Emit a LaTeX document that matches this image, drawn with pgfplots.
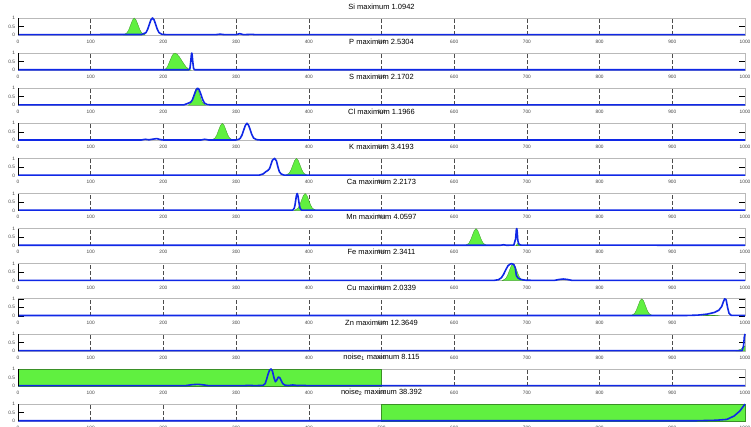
\documentclass[border=0pt]{standalone}
\usepackage{fontspec}
\setmainfont{Liberation Sans}
\usepackage{pgfplots}
\pgfplotsset{compat=1.18}
\definecolor{mgreen}{RGB}{96,240,64}
\definecolor{mblue}{RGB}{16,40,230}
\pgfplotsset{
  panel/.style={
    anchor=north west,
    scale only axis,
    width=727pt, height=17pt,
    xmin=0, xmax=1000, ymin=0, ymax=1,
    clip=false,
    xtick={0,100,...,1000},
    ytick={0,0.5,1},
    yticklabels={0,0.5,1},
    /pgf/number format/1000 sep={},
    /pgf/number format/assume math mode=true,
    xmajorgrids,
    grid style={gray!60!black, dash pattern=on 4pt off 2pt, line width=0.5pt},
    axis line style={gray!55, line width=0.8pt},
    xtick style={draw=none},
    ytick style={black, line width=0.6pt},
    major tick length=6pt,
    tick align=inside,
    tick label style={font=\fontsize{4.8}{5}\selectfont, text=black!75},
    xticklabel style={yshift=-1.5pt},
    yticklabel style={xshift=0.5pt},
    title style={font=\fontsize{7.5}{8}\selectfont, at={(0.5,1)}, anchor=south, yshift=1.5pt, inner sep=1pt},
    every axis plot/.append style={},
  },
  gfill/.style={draw=mgreen!60!black, line width=0.3pt, fill=mgreen},
  bline/.style={draw=mblue, line width=1.6pt, line join=round},
}
\newcommand{\leftspine}{\draw[black, line width=1pt] (rel axis cs:0,0) -- (rel axis cs:0,1);}
\begin{document}
\begin{tikzpicture}
% Si
\begin{axis}[panel, at={(18pt,-18pt)}, title={Si maximum 1.0942}]
\addplot[gfill] coordinates {(145,0) (150,0.135) (152.5,0.325) (155,0.607) (157.5,0.882) (160,1) (162.5,0.882) (165,0.607) (167.5,0.325) (170,0.135) (175,0)} \closedcycle;
\addplot[bline] coordinates {(0,0.02) (170,0.03) (176,0.135) (178.25,0.325) (180.5,0.607) (182.75,0.882) (185,1) (187.25,0.882) (189.5,0.607) (191.75,0.325) (194,0.135) (198,0.04) (205,0.02) (272,0.02) (278,0.05) (284,0.02) (300,0.02) (305,0.08) (310,0.02) (322,0.04) (326,0.02) (1000,0.02)};
\leftspine
\end{axis}
% P
\begin{axis}[panel, at={(18pt,-53.1pt)}, title={P maximum 2.5304}]
\addplot[gfill] coordinates {(200,0) (204,0.1) (206,0.25) (208,0.45) (210,0.65) (212,0.85) (214,0.97) (216,1) (219,0.93) (222,0.78) (225,0.58) (228,0.38) (231,0.2) (234,0.08) (238,0)} \closedcycle;
\addplot[bline] coordinates {(0,0.02) (235,0.02) (236.5,0.1) (237.5,0.45) (238.5,0.92) (239,1) (239.5,0.92) (240.5,0.45) (241.5,0.1) (243,0.02) (1000,0.02)};
\leftspine
\end{axis}
% S
\begin{axis}[panel, at={(18pt,-88.2pt)}, title={S maximum 2.1702}]
\addplot[gfill] coordinates {(234,0) (238,0.135) (240,0.325) (242,0.607) (244,0.882) (246,1) (248,0.882) (250,0.607) (252,0.325) (254,0.135) (258,0)} \closedcycle;
\addplot[bline] coordinates {(0,0.02) (228,0.02) (232,0.08) (236,0.15) (238,0.2) (240,0.33) (242.5,0.62) (245,0.9) (247,1) (249,0.93) (251.5,0.65) (254,0.33) (256.5,0.13) (260,0.04) (265,0.02) (1000,0.02)};
\leftspine
\end{axis}
% Cl
\begin{axis}[panel, at={(18pt,-123.3pt)}, title={Cl maximum 1.1966}]
\addplot[gfill] coordinates {(266,0) (271,0.135) (273.5,0.325) (276,0.607) (278.5,0.882) (281,1) (283.5,0.882) (286,0.607) (288.5,0.325) (291,0.135) (296,0)} \closedcycle;
\addplot[bline] coordinates {(0,0.02) (170,0.02) (175,0.06) (180,0.03) (186,0.07) (191,0.1) (196,0.04) (200,0.02) (252,0.02) (257,0.06) (262,0.02) (300,0.02) (304,0.06) (306,0.135) (308.25,0.325) (310.5,0.607) (312.75,0.882) (315,1) (317.25,0.882) (319.5,0.607) (321.75,0.325) (324,0.135) (328,0.04) (333,0.02) (1000,0.02)};
\leftspine
\end{axis}
% K
\begin{axis}[panel, at={(18pt,-158.4pt)}, title={K maximum 3.4193}]
\addplot[gfill] coordinates {(368,0) (373,0.135) (375.5,0.325) (378,0.607) (380.5,0.882) (383,1) (385.5,0.882) (388,0.607) (390.5,0.325) (393,0.135) (398,0)} \closedcycle;
\addplot[bline] coordinates {(0,0.02) (332,0.02) (337,0.08) (341,0.22) (344,0.3) (346,0.4) (348,0.65) (350,0.9) (353,1) (355.5,0.85) (357.5,0.5) (359.5,0.22) (362,0.08) (366,0.02) (1000,0.02)};
\leftspine
\end{axis}
% Ca
\begin{axis}[panel, at={(18pt,-193.5pt)}, title={Ca maximum 2.2173}]
\addplot[gfill] coordinates {(380,0) (385,0.135) (387.5,0.325) (390,0.607) (392.5,0.882) (395,1) (397.5,0.882) (400,0.607) (402.5,0.325) (405,0.135) (410,0)} \closedcycle;
\addplot[bline] coordinates {(0,0.02) (378,0.02) (380,0.135) (381,0.325) (382,0.607) (383,0.882) (384,1) (385,0.882) (386,0.607) (387,0.325) (388,0.135) (390,0.02) (1000,0.02)};
\leftspine
\end{axis}
% Mn
\begin{axis}[panel, at={(18pt,-228.6pt)}, title={Mn maximum 4.0597}]
\addplot[gfill] coordinates {(615,0) (620,0.135) (622.5,0.325) (625,0.607) (627.5,0.882) (630,1) (632.5,0.882) (635,0.607) (637.5,0.325) (640,0.135) (645,0)} \closedcycle;
\addplot[gfill] coordinates {(685,0) (687,0.12) (689,0.1) (692,0)} \closedcycle;
\addplot[bline] coordinates {(0,0.02) (663,0.02) (668,0.05) (672,0.02) (682,0.03) (684.5,0.4) (685.5,0.95) (686,1) (686.5,0.9) (687.5,0.3) (689,0.08) (692,0.03) (1000,0.02)};
\leftspine
\end{axis}
% Fe
\begin{axis}[panel, at={(18pt,-263.7pt)}, title={Fe maximum 2.3411}]
\addplot[gfill] coordinates {(666,0) (671,0.135) (673.5,0.325) (676,0.607) (678.5,0.882) (681,1) (683.5,0.882) (686,0.607) (688.5,0.325) (691,0.135) (696,0)} \closedcycle;
\addplot[bline] coordinates {(0,0.02) (655,0.02) (661,0.06) (665,0.18) (668,0.38) (671,0.65) (674,0.88) (677,0.98) (679,1) (682,0.95) (684,0.75) (685.5,0.3) (688,0.15) (692,0.07) (698,0.03) (710,0.02) (738,0.02) (744,0.07) (750,0.1) (756,0.07) (762,0.02) (1000,0.02)};
\leftspine
\end{axis}
% Cu
\begin{axis}[panel, at={(18pt,-298.8pt)}, title={Cu maximum 2.0339}]
\addplot[gfill] coordinates {(843,0) (848,0.135) (850.5,0.325) (853,0.607) (855.5,0.882) (858,1) (860.5,0.882) (863,0.607) (865.5,0.325) (868,0.135) (873,0)} \closedcycle;
\addplot[gfill] coordinates {(940,0) (952,0.05) (965,0)} \closedcycle;
\addplot[bline] coordinates {(0,0.02) (920,0.02) (935,0.04) (948,0.1) (958,0.2) (964,0.33) (968,0.55) (970,0.8) (972,1) (974,0.95) (976,0.5) (978,0.15) (981,0.03) (1000,0.02)};
\leftspine
\end{axis}
% Zn
\begin{axis}[panel, at={(18pt,-333.9pt)}, title={Zn maximum 12.3649}]
\addplot[gfill] coordinates {(988,0) (995,0.12) (1000,0.3)} \closedcycle;
\addplot[bline] coordinates {(0,0.02) (996,0.02) (998,0.3) (999,0.8) (1000,1)};
\leftspine
\end{axis}
% noise1
\begin{axis}[panel, at={(18pt,-369pt)}, title={noise\textsubscript{1} maximum 8.115}]
\addplot[gfill] coordinates {(0,0) (0,1) (500,1) (500,0)} \closedcycle;
\addplot[bline] coordinates {(0,0.02) (230,0.02) (240,0.08) (248,0.1) (256,0.06) (262,0.02) (310,0.02) (318,0.04) (326,0.02) (337,0.04) (340,0.135) (342,0.4) (344,0.7) (346,0.93) (348,1) (350,0.88) (352,0.5) (354,0.25) (356,0.35) (358,0.52) (360,0.5) (362,0.33) (364,0.15) (367,0.05) (372,0.03) (378,0.06) (384,0.03) (392,0.04) (398,0.02) (1000,0.02)};
\leftspine
\end{axis}
% noise2
\begin{axis}[panel, at={(18pt,-404.1pt)}, title={noise\textsubscript{2} maximum 38.392}]
\addplot[gfill] coordinates {(500,0) (500,1) (1000,1) (1000,0)} \closedcycle;
\addplot[bline] coordinates {(0,0.02) (930,0.02) (960,0.05) (975,0.1) (985,0.3) (993,0.6) (1000,1)};
\leftspine
\end{axis}
\pgfresetboundingbox
\useasboundingbox (0,0) rectangle (751pt,-426pt);
\end{tikzpicture}
\end{document}
